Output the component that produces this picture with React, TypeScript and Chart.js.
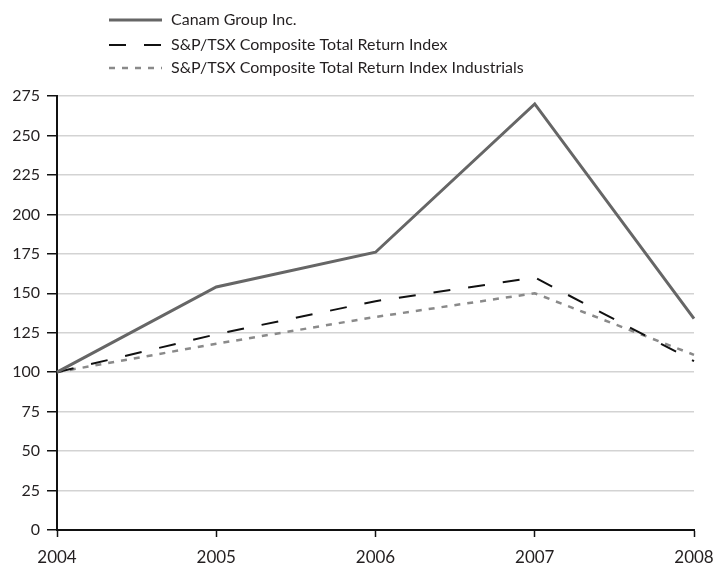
import React, { useEffect, useRef } from "react";
import { Chart, registerables } from "chart.js";

Chart.register(...registerables);

const years = ["2004", "2005", "2006", "2007", "2008"];
const canam = [100, 154, 176, 270, 134];
const tsx = [100, 124, 145, 160, 107];
const industrials = [100, 118, 135, 150, 111];
const seriesNames = [
  "Canam Group Inc.",
  "S&P/TSX Composite Total Return Index",
  "S&P/TSX Composite Total Return Index Industrials",
];

const FONT = "Lato";
const TEXT = "#231f20";

const legendPlugin = {
  id: "customLegend",
  afterDraw(chart: any) {
    const ctx = chart.ctx;
    const rows = [20, 45, 68];
    ctx.save();
    chart.data.datasets.forEach((ds: any, i: number) => {
      const y = rows[i];
      ctx.beginPath();
      ctx.strokeStyle = ds.borderColor;
      ctx.lineWidth = ds.borderWidth;
      ctx.setLineDash(ds.borderDash || []);
      ctx.moveTo(109, y);
      ctx.lineTo(162, y);
      ctx.stroke();
      ctx.setLineDash([]);
      ctx.fillStyle = TEXT;
      ctx.font = `16px ${FONT}`;
      ctx.textBaseline = "middle";
      ctx.textAlign = "left";
      ctx.fillText(ds.label, 171, y);
    });
    ctx.restore();
  },
};

export default function App() {
  const ref = useRef<HTMLCanvasElement>(null);
  useEffect(() => {
    if (!ref.current) return;
    const chart = new Chart(ref.current, {
      type: "line",
      data: {
        labels: years,
        datasets: [
          {
            label: seriesNames[0],
            data: canam,
            borderColor: "#666666",
            borderWidth: 3,
            pointRadius: 0,
            tension: 0,
          },
          {
            label: seriesNames[1],
            data: tsx,
            borderColor: "#111111",
            borderWidth: 2,
            borderDash: [17, 18],
            pointRadius: 0,
            tension: 0,
          },
          {
            label: seriesNames[2],
            data: industrials,
            borderColor: "#8a8a8a",
            borderWidth: 2.5,
            borderDash: [6, 7],
            pointRadius: 0,
            tension: 0,
          },
        ],
      },
      options: {
        animation: false,
        responsive: false,
        maintainAspectRatio: false,
        layout: { padding: { top: 96, right: 21, left: 0, bottom: 0 } },
        plugins: {
          legend: { display: false },
          tooltip: { enabled: false },
        },
        scales: {
          x: {
            offset: false,
            grid: {
              drawOnChartArea: false,
              drawTicks: true,
              tickLength: 7,
              tickColor: "#111",
              tickWidth: 1.5,
            },
            border: { color: "#111", width: 2 },
            ticks: {
              color: TEXT,
              font: { family: FONT, size: 17 },
              padding: 10,
              maxRotation: 0,
            },
            afterFit(scale: any) {
              scale.height = 39;
              scale.paddingRight = 0;
              scale.paddingLeft = 0;
            },
          },
          y: {
            min: 0,
            max: 275,
            ticks: {
              stepSize: 25,
              color: TEXT,
              font: { family: FONT, size: 16 },
              padding: 7,
            },
            grid: {
              color: "#d3d3d3",
              lineWidth: 1.5,
              tickLength: 10,
              tickColor: "#111",
              tickWidth: 1.5,
            },
            border: { color: "#111", width: 2 },
            afterFit(scale: any) {
              scale.width = 57;
            },
          },
        },
      },
      plugins: [legendPlugin],
    });
    return () => chart.destroy();
  }, []);
  return (
    <div style={{ position: "fixed", left: 0, top: 0, width: 715, height: 569, background: "#fff" }}>
      <canvas ref={ref} width={715} height={569} style={{ width: 715, height: 569 }} />
    </div>
  );
}
